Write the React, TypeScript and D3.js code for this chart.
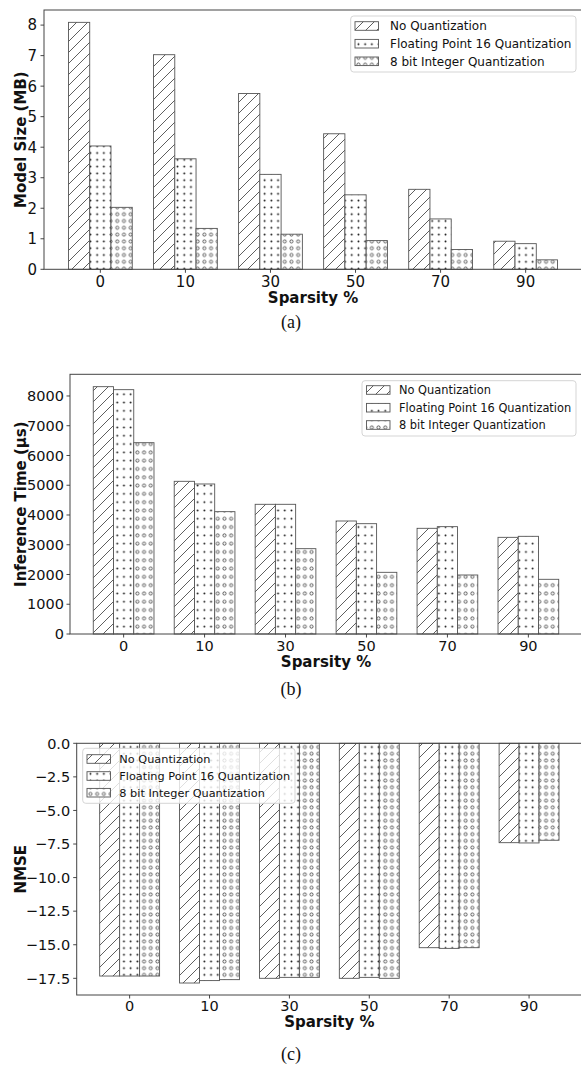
import React from "react";
import * as d3 from "d3";

const sparsity = ["0", "10", "30", "50", "70", "90"];
const seriesNames = ["No Quantization", "Floating Point 16 Quantization", "8 bit Integer Quantization"];

const sizeNoQ = [8.09, 7.03, 5.76, 4.44, 2.62, 0.92];
const sizeFp16 = [4.04, 3.62, 3.11, 2.44, 1.65, 0.84];
const sizeInt8 = [2.03, 1.34, 1.15, 0.94, 0.65, 0.31];

const timeNoQ = [8313, 5132, 4359, 3798, 3552, 3249];
const timeFp16 = [8212, 5042, 4359, 3708, 3608, 3283];
const timeInt8 = [6430, 4112, 2868, 2073, 1983, 1838];

const nmseNoQ = [-17.33, -17.85, -17.5, -17.5, -15.22, -7.4];
const nmseFp16 = [-17.33, -17.67, -17.43, -17.43, -15.27, -7.42];
const nmseInt8 = [-17.33, -17.6, -17.43, -17.5, -15.22, -7.22];

const sizeTicks = [0, 1, 2, 3, 4, 5, 6, 7, 8];
const timeTicks = [0, 1000, 2000, 3000, 4000, 5000, 6000, 7000, 8000];
const nmseTicks = [0, -2.5, -5, -7.5, -10, -12.5, -15, -17.5];

const FONT = "'DejaVu Sans', sans-serif";
const EDGE = "#555";
const HATCH = "#2a2a2a";

type PanelCfg = {
  id: string;
  left: number;
  right: number;
  top: number;
  bottom: number;
  series: number[][];
  ticks: number[];
  fmt: (v: number) => string;
  ylabel: string;
  tickFont: number;
  tickGap: number;
  xTickDy: number;
  xLabelDy: number;
  caption: string;
  captionY: number;
  negative: boolean;
  dotH: number;
  legend: { x0: number; x1: number; y0: number; y1: number; rows: number[]; hx: number; tx: number; font: number; alpha: number };
};

function Patterns({ id, dotH }: { id: string; dotH: number }) {
  const s = 11;
  const dw = 6.7;
  return (
    <defs>
      <pattern id={`${id}-slash`} patternUnits="userSpaceOnUse" width={s} height={s}>
        <rect width={s} height={s} fill="white" />
        <path d={`M0,${s} L${s},0 M-1,1 L1,-1 M${s - 1},${s + 1} L${s + 1},${s - 1}`} stroke={HATCH} strokeWidth={0.75} />
      </pattern>
      <pattern id={`${id}-dot`} patternUnits="userSpaceOnUse" width={dw} height={dotH}>
        <rect width={dw} height={dotH} fill="white" />
        <circle cx={dw / 2} cy={dotH / 2} r={0.95} fill="#111" />
      </pattern>
      <pattern id={`${id}-circ`} patternUnits="userSpaceOnUse" width={dw} height={dotH}>
        <rect width={dw} height={dotH} fill="white" />
        <circle cx={dw / 2} cy={dotH / 2} r={1.55} fill="none" stroke={HATCH} strokeWidth={0.75} />
      </pattern>
    </defs>
  );
}

function Panel({ cfg }: { cfg: PanelCfg }) {
  const { id, left, right, top, bottom, series } = cfg;
  const x = d3.scaleLinear().domain([-0.6625, sparsity.length - 1 + 0.6625]).range([left, right]);
  const all = series.flat();
  const domain = cfg.negative ? [(d3.min(all) as number) * 1.05, 0] : [0, (d3.max(all) as number) * 1.05];
  const y = d3.scaleLinear().domain(domain).range([bottom, top]);
  const fills = [`url(#${id}-slash)`, `url(#${id}-dot)`, `url(#${id}-circ)`];
  const bw = 0.25;
  const cx = (left + right) / 2;
  const cy = (top + bottom) / 2;
  const lg = cfg.legend;
  return (
    <g>
      <Patterns id={id} dotH={cfg.dotH} />
      {series.map((vals, si) =>
        vals.map((v, i) => {
          const xc = i + (si - 1) * bw;
          const x0 = x(xc - bw / 2);
          const x1 = x(xc + bw / 2);
          const y0 = y(0);
          const y1 = y(v);
          return (
            <rect
              key={`${si}-${i}`}
              x={x0}
              y={Math.min(y0, y1)}
              width={x1 - x0}
              height={Math.abs(y1 - y0)}
              fill={fills[si]}
              stroke={EDGE}
              strokeWidth={0.9}
            />
          );
        })
      )}
      <rect x={left} y={top} width={right - left} height={bottom - top} fill="none" stroke="#444" strokeWidth={1} />
      {cfg.ticks.map((t) => (
        <g key={`yt${t}`}>
          <line x1={left - 3.5} x2={left} y1={y(t)} y2={y(t)} stroke="#333" strokeWidth={0.9} />
          <text x={left - cfg.tickGap} y={y(t)} dy="0.36em" textAnchor="end" fontSize={cfg.tickFont} fontFamily={FONT} fill="#111">
            {cfg.fmt(t)}
          </text>
        </g>
      ))}
      {sparsity.map((s, i) => (
        <g key={`xt${s}`}>
          <line x1={x(i)} x2={x(i)} y1={bottom} y2={bottom + 3.5} stroke="#333" strokeWidth={0.9} />
          <text x={x(i)} y={bottom + cfg.xTickDy} textAnchor="middle" fontSize={cfg.tickFont} fontFamily={FONT} fill="#111">
            {s}
          </text>
        </g>
      ))}
      <text x={cx} y={bottom + cfg.xLabelDy} textAnchor="middle" fontSize={15} fontWeight="bold" fontFamily={FONT} fill="#111">
        Sparsity %
      </text>
      <text
        transform={`translate(20.5,${cy}) rotate(-90)`}
        textAnchor="middle"
        dy="0.36em"
        fontSize={15}
        fontWeight="bold"
        fontFamily={FONT}
        fill="#111"
      >
        {cfg.ylabel}
      </text>
      <rect
        x={lg.x0}
        y={lg.y0}
        width={lg.x1 - lg.x0}
        height={lg.y1 - lg.y0}
        rx={3}
        fill="white"
        fillOpacity={lg.alpha}
        stroke="#d0d0d0"
        strokeWidth={0.9}
      />
      {seriesNames.map((n, si) => (
        <g key={`lg${si}`}>
          <rect x={lg.hx} y={lg.rows[si] - 4.3} width={23.5} height={8.6} fill={fills[si]} stroke={EDGE} strokeWidth={0.9} />
          <text x={lg.tx} y={lg.rows[si]} dy="0.36em" fontSize={lg.font} fontFamily={FONT} fill="#111">
            {n}
          </text>
        </g>
      ))}
      <text x={291} y={cfg.captionY} textAnchor="middle" fontSize={18} fontFamily="'Liberation Serif', 'Times New Roman', serif" fill="#111">
        {cfg.caption}
      </text>
    </g>
  );
}

const fmtInt = (v: number) => String(v);
const fmtDec = (v: number) => v.toFixed(1).replace("-", "\u2212");

const panels: PanelCfg[] = [
  {
    id: "a",
    left: 44,
    right: 582,
    top: 10,
    bottom: 269.3,
    series: [sizeNoQ, sizeFp16, sizeInt8],
    ticks: sizeTicks,
    fmt: fmtInt,
    ylabel: "Model Size (MB)",
    tickFont: 15,
    tickGap: 7,
    xTickDy: 17.5,
    xLabelDy: 34,
    caption: "(a)",
    captionY: 328,
    negative: false,
    dotH: 6.8,
    legend: { x0: 350.7, x1: 576, y0: 16, y1: 72, rows: [26, 43.7, 61.3], hx: 355, tx: 390, font: 12, alpha: 0.8 },
  },
  {
    id: "b",
    left: 70,
    right: 582,
    top: 374.3,
    bottom: 634,
    series: [timeNoQ, timeFp16, timeInt8],
    ticks: timeTicks,
    fmt: fmtInt,
    ylabel: "Inference Time (\u00b5s)",
    tickFont: 14.5,
    tickGap: 6,
    xTickDy: 16.5,
    xLabelDy: 32.5,
    caption: "(b)",
    captionY: 695,
    negative: false,
    dotH: 8.3,
    legend: { x0: 362, x1: 576, y0: 380.7, y1: 436, rows: [390, 407.7, 425], hx: 366.5, tx: 399, font: 11.4, alpha: 0.8 },
  },
  {
    id: "c",
    left: 76.7,
    right: 582,
    top: 743.3,
    bottom: 995,
    series: [nmseNoQ, nmseFp16, nmseInt8],
    ticks: nmseTicks,
    fmt: fmtDec,
    ylabel: "NMSE",
    tickFont: 14.5,
    tickGap: 6.5,
    xTickDy: 16.3,
    xLabelDy: 32,
    caption: "(c)",
    captionY: 1060,
    negative: true,
    dotH: 6.7,
    legend: { x0: 82.7, x1: 295, y0: 748.3, y1: 803.3, rows: [759, 776, 792.7], hx: 87, tx: 119.3, font: 11.3, alpha: 0.8 },
  },
];

export default function App() {
  return (
    <svg
      width={581}
      height={1067}
      viewBox="0 0 581 1067"
      style={{ position: "absolute", left: 0, top: 0, background: "white" }}
    >
      <rect width={581} height={1067} fill="white" />
      {panels.map((p) => (
        <Panel key={p.id} cfg={p} />
      ))}
    </svg>
  );
}
